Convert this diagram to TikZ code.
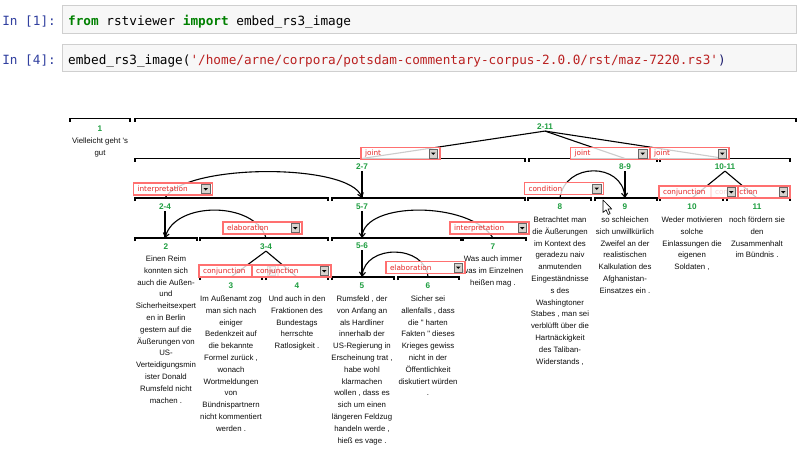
\documentclass[tikz,border=0pt]{standalone}
\usepackage{fontspec}
\usepackage{xcolor}
\usepackage{tikz}
\usetikzlibrary{arrows.meta}
\setmonofont{DejaVu Sans Mono}
\newfontfamily\edufont{Liberation Sans}
\newfontfamily\relfont{DejaVu Sans}
\definecolor{spangreen}{RGB}{30,158,64}
\definecolor{relred}{RGB}{228,38,38}
\definecolor{reledge}{RGB}{255,112,112}
\definecolor{btngray}{RGB}{214,211,206}
\definecolor{cellbg}{RGB}{247,247,247}
\definecolor{celledge}{RGB}{207,207,207}
\definecolor{promptblue}{RGB}{48,63,159}
\definecolor{kwgreen}{RGB}{0,128,0}
\definecolor{strred}{RGB}{186,33,33}
\definecolor{parennavy}{RGB}{30,30,110}
\definecolor{edutext}{RGB}{15,15,15}

\begin{document}
\begin{tikzpicture}[x=1pt, y=-1pt,
    cellbox/.style={fill=cellbg, draw=celledge, line width=0.8pt},
    prompt/.style={font={\ttfamily\fontsize{12.7}{15}\selectfont}, text=promptblue, anchor=base east, inner sep=0pt},
    code/.style={font={\ttfamily\fontsize{12.7}{15}\selectfont}, anchor=base west, inner sep=0pt},
    segbar/.style={line width=1.8pt, black},
    spanlbl/.style={font={\edufont\bfseries\fontsize{8.2}{9}\selectfont}, text=spangreen, inner sep=1pt},
    edu/.style={font={\edufont\fontsize{7.8}{11.8}\selectfont}, text=edutext, align=center, anchor=north, inner sep=0pt, execute at begin node={\rule{0pt}{6.2pt}}},
    treeline/.style={line width=1.1pt, black},
    relarc/.style={line width=1.1pt, black, -{Straight Barb[length=4pt,width=6pt]}},
    relbox/.style={draw=reledge, line width=1.3pt, fill=white, fill opacity=0.8, text opacity=1, text=relred,
      font={\relfont\fontsize{7.3}{8}\selectfont}, text width=71pt, align=left, inner xsep=4pt, inner ysep=0pt, minimum height=12pt,
      path picture={
        \draw[fill=btngray, fill opacity=1, draw=black!60, line width=0.5pt]
          ([xshift=-11pt,yshift=-1.5pt]path picture bounding box.north east) rectangle ([xshift=-2.5pt,yshift=1.5pt]path picture bounding box.south east);
        \fill[black, fill opacity=1] ([xshift=-9pt,yshift=-5pt]path picture bounding box.north east) -- ++(4.5pt,0pt) -- ++(-2.25pt,-2.5pt) -- cycle;
      }}]
  % background and page size
  \fill[white] (0,0) rectangle (800,450);
  \useasboundingbox (0,0) rectangle (800,450);

  % notebook cells
  \draw[cellbox] (62,5) rectangle (796,33);
  \draw[cellbox] (62,44) rectangle (796,71);
  \node[prompt] (inone) at (56,25) {In [1]:};
  \node[code] (codeone) at (68,25) {{\color{kwgreen}\bfseries from} rstviewer {\color{kwgreen}\bfseries import} embed\_rs3\_image};
  \node[prompt] (infour) at (56,64) {In [4]:};
  \node[code] (codefour) at (68,64) {embed\_rs3\_image(\textcolor{strred}{'/home/arne/corpora/potsdam-commentary-corpus-2.0.0/rst/maz-7220.rs3'}\textcolor{parennavy}{)}};

  % span bars
  \foreach \xa/\xb/\yy in {70/130/118.5, 135/796/118.5,
                           135/525/158.5, 529/657/158.5, 660/790/158.5,
                           135/328/198, 332/525/198, 528/591/198, 595/657/198, 660/723/198, 727/790/198,
                           135/197/238, 200/328/238, 332/461/238, 463/526/238,
                           200/262/277, 266/328/277, 332/394/277, 398/459/277}{
    \draw[segbar] (\xa,\yy+3) -- (\xa,\yy) -- (\xb,\yy) -- (\xb,\yy+3);
  }

  % tops of the spans
  \coordinate (t2to7) at (362,158.5);
  \coordinate (t8to9) at (625,158.5);
  \coordinate (t10to11) at (725,158.5);
  \coordinate (t2to4) at (165,198);
  \coordinate (t5to7) at (362,198);
  \coordinate (t8) at (560,198);
  \coordinate (t9) at (625,198);
  \coordinate (t10) at (692,198);
  \coordinate (t11) at (757,198);
  \coordinate (t2) at (165,238);
  \coordinate (t3to4) at (266,238);
  \coordinate (t5to6) at (362,238);
  \coordinate (t7) at (493,238);
  \coordinate (t3) at (231,277);
  \coordinate (t4) at (297,277);
  \coordinate (t5) at (362,277);
  \coordinate (t6) at (428,277);

  % span labels
  \node[spanlbl] (s1) at (100,129) {1};
  \node[spanlbl] (s2to11) at (545,127) {2-11};
  \node[spanlbl] (s2to7) at (362,167) {2-7};
  \node[spanlbl] (s8to9) at (625,167) {8-9};
  \node[spanlbl] (s10to11) at (725,167) {10-11};
  \node[spanlbl] (s2to4) at (165,207) {2-4};
  \node[spanlbl] (s5to7) at (362,207) {5-7};
  \node[spanlbl] (s8) at (560,207) {8};
  \node[spanlbl] (s9) at (625,207) {9};
  \node[spanlbl] (s10) at (692,207) {10};
  \node[spanlbl] (s11) at (757,207) {11};
  \node[spanlbl] (s2) at (166,247) {2};
  \node[spanlbl] (s3to4) at (266,247) {3-4};
  \node[spanlbl] (s5to6) at (362,246) {5-6};
  \node[spanlbl] (s7) at (493,247) {7};
  \node[spanlbl] (s3) at (231,286) {3};
  \node[spanlbl] (s4) at (297,286) {4};
  \node[spanlbl] (s5) at (362,286) {5};
  \node[spanlbl] (s6) at (428,286) {6};

  % multinuclear lines
  \foreach \kid in {t2to7, t8to9, t10to11}
    \draw[treeline] (s2to11.south) -- (\kid);
  \draw[treeline] (s3to4.south) -- (t3);
  \draw[treeline] (s3to4.south) -- (t4);
  \draw[treeline] (s10to11.south) -- (t10);
  \draw[treeline] (s10to11.south) -- (t11);

  % nucleus lines
  \draw[treeline] (s2to7.south) -- (t5to7);
  \draw[treeline] (s5to7.south) -- (t5to6);
  \draw[treeline] (s5to6.south) -- (t5);
  \draw[treeline] (s2to4.south) -- (t2);
  \draw[treeline] (s8to9.south) -- (t9);

  % satellite arcs
  \draw[relarc] (t2to4) .. controls (185,163) and (350,163) .. (t5to7);
  \draw[relarc] (t3to4) .. controls (255,201) and (175,201) .. (t2);
  \draw[relarc] (t7) .. controls (470,201) and (364,201) .. (t5to6);
  \draw[relarc] (t6) .. controls (425,244) and (365,244) .. (t5);
  \draw[relarc] (t8) .. controls (565,162) and (622,162) .. (t9);

  % segment texts
  \node[edu] (e1) at (100,137.6) {Vielleicht geht 's\\gut};
  \node[edu] (e2) at (166,255.6) {Einen Reim\\konnten sich\\auch die Außen-\\und\\Sicherheitsexpert\\en in Berlin\\gestern auf die\\Äußerungen von\\US-\\Verteidigungsmin\\ister Donald\\Rumsfeld nicht\\machen .};
  \node[edu] (e3) at (231,295.6) {Im Außenamt zog\\man sich nach\\einiger\\Bedenkzeit auf\\die bekannte\\Formel zurück ,\\wonach\\Wortmeldungen\\von\\Bündnispartnern\\nicht kommentiert\\werden .};
  \node[edu] (e4) at (297,295.6) {Und auch in den\\Fraktionen des\\Bundestags\\herrschte\\Ratlosigkeit .};
  \node[edu] (e5) at (362,295.6) {Rumsfeld , der\\von Anfang an\\als Hardliner\\innerhalb der\\US-Regierung in\\Erscheinung trat ,\\habe wohl\\klarmachen\\wollen , dass es\\sich um einen\\längeren Feldzug\\handeln werde ,\\hieß es vage .};
  \node[edu] (e6) at (428,295.6) {Sicher sei\\allenfalls , dass\\die " harten\\Fakten " dieses\\Krieges gewiss\\nicht in der\\Öffentlichkeit\\diskutiert würden\\.};
  \node[edu] (e7) at (493,255.6) {Was auch immer\\was im Einzelnen\\heißen mag .};
  \node[edu] (e8) at (560,216.6) {Betrachtet man\\die Äußerungen\\im Kontext des\\geradezu naiv\\anmutenden\\Eingeständnisse\\s des\\Washingtoner\\Stabes , man sei\\verblüfft über die\\Hartnäckigkeit\\des Taliban-\\Widerstands ,};
  \node[edu] (e9) at (625,216.6) {so schleichen\\sich unwillkürlich\\Zweifel an der\\realistischen\\Kalkulation des\\Afghanistan-\\Einsatzes ein .};
  \node[edu] (e10) at (692,216.6) {Weder motivieren\\solche\\Einlassungen die\\eigenen\\Soldaten ,};
  \node[edu] (e11) at (757,216.6) {noch fördern sie\\den\\Zusammenhalt\\im Bündnis .};

  % relation boxes
  \node[relbox] (rjointA) at (400.5,153.5) {joint};
  \node[relbox] (rjointB) at (610,153.5) {joint};
  \node[relbox] (rjointC) at (689.5,153.5) {joint};
  \node[relbox] (rinterpA) at (173,189) {interpretation};
  \node[relbox] (relabA) at (262.5,228) {elaboration};
  \node[relbox] (rcond) at (564,188.5) {condition};
  \node[relbox] (rinterpB) at (489.5,228) {interpretation};
  \node[relbox] (relabB) at (425.5,267.5) {elaboration};
  \node[relbox] (rconjA) at (238.5,271) {conjunction};
  \node[relbox] (rconjB) at (291.5,271) {conjunction};
  \node[relbox] (rconjC) at (750.5,192) {conjunction};
  \node[relbox] (rconjD) at (698.5,192) {conjunction};

  % mouse pointer
  \draw[fill=white, line width=0.6pt, line join=round] (603,200) -- (603,212.5) -- (606,209.8) -- (608.2,214.5) -- (610.2,213.6) -- (608,209) -- (611.8,209) -- cycle;
\end{tikzpicture}
\end{document}
